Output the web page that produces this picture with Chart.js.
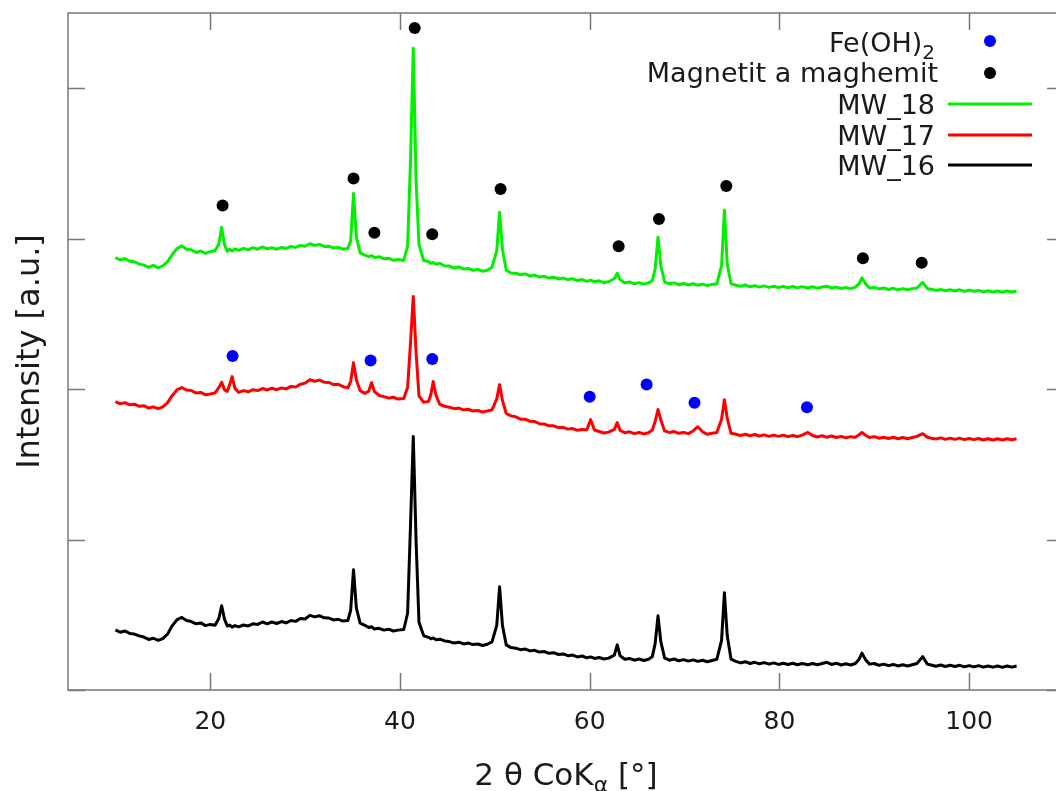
<!DOCTYPE html>
<html lang="en">
<head>
  <meta charset="UTF-8">
  <title>XRD MW_16 / MW_17 / MW_18</title>
  <script src="https://cdn.jsdelivr.net/npm/chart.js"></script>
  <style>
    html, body { margin: 0; padding: 0; background: #fff; overflow: hidden; }
    canvas { display: block; }
  </style>
</head>
<body>
  <canvas id="xrdChart" width="1072" height="791"></canvas>

  <script>
    // 2 theta grid (deg), shared by the three patterns
    const angles = [
      10,10.5,11,11.5,12,12.5,13,13.5,14,14.5,15,15.5,16,16.5,17,17.5,18,18.5,19,19.5,20,20.5,
      20.9,21.2,21.5,21.8,22.05,22.3,22.6,23,
      23.5,24,24.5,25,25.5,26,26.5,27,27.5,28,28.5,29,29.5,30,30.5,31,31.5,32,32.5,33,33.5,34,34.5,
      34.8,35.1,35.4,35.8,36.3,36.7,37,37.3,37.8,38.3,38.8,39.3,39.8,40.4,
      40.8,41.1,41.4,41.7,42,42.5,43,43.25,43.5,43.8,44.2,44.7,
      45.2,45.7,46.2,46.7,47.2,47.7,48.2,48.7,49.2,49.7,50.2,50.5,50.8,51.2,51.7,
      52.2,52.7,53.2,53.7,54.2,54.7,55.2,55.7,56.2,56.7,57.2,57.7,58.2,58.7,59.2,59.7,60.1,60.5,61,61.5,62,62.6,62.9,63.2,
      63.7,64.2,64.7,65.2,65.7,66.2,66.6,66.9,67.2,67.5,67.9,68.4,68.9,69.4,69.9,70.4,70.9,71.4,71.9,72.4,72.9,73.4,73.9,74.2,74.5,74.9,
      75.4,75.9,76.4,76.9,77.4,77.9,78.4,78.9,79.4,79.9,80.4,80.9,81.4,81.9,82.4,83,83.5,84,84.5,85,85.5,86,86.5,87,87.5,88,88.4,88.7,89.1,89.5,
      90,90.5,91,91.5,92,92.5,93,93.5,94,94.5,95.1,95.6,96,96.5,97,97.5,98,98.5,99,99.5,100,100.5,101,101.5,102,102.5,103,103.5,104,104.5,105
    ];

    // intensities (a.u., patterns already offset)
    const mw18 = [
      2875,2858,2868,2850,2846,2832,2824,2810,2822,2806,2820,2848,2895,2935,2952,2930,2926,2908,2918,2902,2914,2920,
      2965,3075,2960,2915,2930,2918,2932,2922,
      2936,2925,2940,2930,2945,2932,2940,2930,2942,2935,2948,2942,2955,2950,2966,2955,2962,2948,2950,2938,2942,2930,2935,
      2985,3300,3010,2905,2890,2880,2888,2874,2880,2866,2870,2856,2862,2855,
      2950,3500,4265,3380,2960,2855,2848,2836,2842,2830,2836,2820,
      2818,2805,2812,2798,2802,2790,2796,2784,2790,2810,2920,3175,2930,2790,2772,
      2770,2760,2766,2752,2758,2745,2750,2738,2744,2732,2738,2728,2733,2722,2728,2716,2724,2714,2720,2708,2714,2735,2770,2728,
      2706,2712,2700,2708,2698,2706,2720,2800,3010,2820,2712,2700,2706,2694,2702,2692,2700,2690,2698,2688,2696,2700,2820,3190,2830,2700,
      2690,2684,2692,2680,2688,2678,2686,2676,2684,2675,2683,2674,2682,2673,2681,2672,2680,2671,2679,2684,2672,2678,2668,2676,2668,2678,2700,2740,2698,2672,
      2676,2666,2672,2662,2670,2660,2668,2660,2668,2672,2710,2668,2664,2656,2662,2654,2660,2652,2660,2650,2658,2650,2656,2646,2654,2646,2652,2644,2652,2646,2650
    ];
    const mw17 = [
      1917,1902,1910,1896,1900,1886,1890,1874,1882,1870,1882,1910,1958,1996,2010,1994,1990,1974,1978,1962,1968,1975,
      2010,2045,1995,1985,2030,2083,2005,1978,
      1990,1982,1996,1990,2004,1994,2006,1996,2008,2002,2018,2014,2032,2040,2062,2052,2060,2046,2044,2030,2032,2016,2008,
      2050,2176,2060,1990,1972,1986,2043,1984,1958,1950,1940,1946,1934,1938,
      2010,2300,2616,2240,1955,1912,1918,1962,2050,1958,1898,1886,
      1880,1870,1874,1862,1866,1854,1858,1848,1854,1862,1935,2030,1925,1838,1822,
      1816,1800,1800,1786,1784,1770,1768,1756,1756,1744,1746,1734,1738,1726,1732,1730,1797,1728,1718,1708,1714,1732,1777,1726,
      1710,1716,1704,1712,1702,1710,1728,1785,1864,1795,1722,1712,1718,1706,1712,1704,1722,1750,1716,1700,1706,1712,1800,1930,1805,1706,
      1700,1692,1700,1690,1698,1688,1696,1686,1694,1686,1694,1684,1692,1684,1694,1712,1692,1682,1690,1680,1688,1678,1686,1676,1684,1680,1696,1712,1692,1678,
      1684,1674,1680,1672,1680,1670,1678,1670,1678,1686,1704,1680,1674,1668,1676,1666,1674,1666,1674,1664,1672,1664,1672,1662,1670,1662,1670,1662,1670,1664,1670
    ];
    const mw16 = [
      400,384,392,376,372,360,352,336,344,330,342,372,428,468,482,462,455,440,446,428,436,430,
      475,560,470,425,432,418,428,420,
      432,426,440,436,452,440,452,442,455,446,462,456,475,472,496,486,494,480,478,466,470,458,462,
      530,800,545,445,430,415,420,406,410,398,404,392,398,402,
      510,1080,1685,980,450,360,350,340,346,334,338,326,
      322,312,318,306,312,302,306,296,304,320,430,686,430,300,282,
      278,268,272,260,264,252,256,244,248,236,240,228,232,220,226,214,220,210,216,206,212,232,300,228,
      204,210,198,206,196,204,222,310,493,320,212,198,206,194,202,192,200,190,198,188,196,204,330,646,360,205,
      190,180,188,176,184,174,182,172,180,170,178,170,178,168,176,168,176,168,176,184,170,178,166,174,166,176,205,245,200,172,
      176,164,172,162,170,160,168,160,168,176,222,172,166,158,166,156,164,156,164,154,162,154,162,152,160,152,160,150,160,152,160
    ];

    // phase markers (2 theta, height)
    const feohX = [22.35, 36.9, 43.4, 60.0, 66.0, 71.05, 82.9];
    const feohY = [2220, 2190, 2200, 1950, 2030, 1910, 1880];
    const magX = [41.55, 21.3, 35.1, 37.3, 43.4, 50.6, 63.05, 67.3, 74.4, 88.8, 95.0];
    const magY = [4400, 3220, 3400, 3040, 3030, 3330, 2950, 3130, 3350, 2870, 2840];

    const xTicks = [20, 40, 60, 80, 100];
    const yTicks = [0, 1000, 2000, 3000, 4000];

    const seriesNames = ['MW_18', 'MW_17', 'MW_16'];
    const seriesColors = ['#00f000', '#ff0000', '#000000'];
    const seriesValues = [mw18, mw17, mw16];

    const FONT = '"DejaVu Sans", sans-serif';
    const TEXT = '#1a1a1a';

    const toPoints = (xs, ys) => xs.map((x, i) => ({ x: x, y: ys[i] }));

    // frame with inward ticks (gnuplot style)
    const framePlugin = {
      id: 'frame',
      beforeDatasetsDraw(chart) {
        const { ctx, chartArea: a, scales } = chart;
        ctx.save();
        ctx.strokeStyle = '#777';
        ctx.lineWidth = 1.5;
        ctx.strokeRect(a.left, a.top, a.right - a.left, a.bottom - a.top);
        ctx.beginPath();
        xTicks.forEach(v => {
          const px = Math.round(scales.x.getPixelForValue(v)) + 0.5;
          ctx.moveTo(px, a.bottom); ctx.lineTo(px, a.bottom - 17);
          ctx.moveTo(px, a.top); ctx.lineTo(px, a.top + 17);
        });
        yTicks.forEach(v => {
          const py = Math.round(scales.y.getPixelForValue(v)) + 0.5;
          ctx.moveTo(a.left, py); ctx.lineTo(a.left + 17, py);
          ctx.moveTo(a.right, py); ctx.lineTo(a.right - 17, py);
        });
        ctx.stroke();
        ctx.restore();
      },
      afterDraw(chart) {
        const { ctx, chartArea: a } = chart;
        ctx.save();
        ctx.fillStyle = TEXT;

        // x title: 2 θ CoK_α [°]
        const mainF = '31px ' + FONT, subF = '22px ' + FONT;
        ctx.font = mainF;
        const p1 = '2 \u03b8 CoK', p3 = ' [\u00b0]';
        const w1 = ctx.measureText(p1).width, w3 = ctx.measureText(p3).width;
        ctx.font = subF;
        const w2 = ctx.measureText('\u03b1').width;
        let x0 = (a.left + a.right) / 2 - (w1 + w2 + w3) / 2;
        const base = 785;
        ctx.textBaseline = 'alphabetic';
        ctx.textAlign = 'left';
        ctx.font = mainF; ctx.fillText(p1, x0, base);
        ctx.font = subF; ctx.fillText('\u03b1', x0 + w1, base + 7);
        ctx.font = mainF; ctx.fillText(p3, x0 + w1 + w2, base);

        // y title
        ctx.save();
        ctx.translate(39, (a.top + a.bottom) / 2);
        ctx.rotate(-Math.PI / 2);
        ctx.textAlign = 'center';
        ctx.font = '32px ' + FONT;
        ctx.fillText('Intensity [a.u.]', 0, 0);
        ctx.restore();

        // legend
        const tx = 935, sx0 = 948, sx1 = 1032, mx = 990;
        ctx.textAlign = 'right';
        // Fe(OH)2 with subscript
        ctx.font = '20px ' + FONT;
        const w2s = ctx.measureText('2').width;
        ctx.fillText('2', tx, 59);
        ctx.font = '27px ' + FONT;
        ctx.fillText('Fe(OH)', tx - w2s, 52);
        ctx.fillText('Magnetit a maghemit', tx + 3, 82);
        ctx.fillStyle = '#0000ff';
        ctx.beginPath(); ctx.arc(mx, 41, 6, 0, Math.PI * 2); ctx.fill();
        ctx.fillStyle = '#000';
        ctx.beginPath(); ctx.arc(mx, 73, 6, 0, Math.PI * 2); ctx.fill();
        const rows = [104, 135, 165];
        seriesNames.forEach((name, i) => {
          ctx.fillStyle = TEXT;
          ctx.fillText(name, tx, rows[i] + 10);
          ctx.strokeStyle = seriesColors[i];
          ctx.lineWidth = 3;
          ctx.beginPath(); ctx.moveTo(sx0, rows[i]); ctx.lineTo(sx1, rows[i]); ctx.stroke();
        });
        ctx.restore();
      }
    };

    const datasets = [
      {
        label: 'Fe(OH)2',
        data: toPoints(feohX, feohY),
        showLine: false,
        pointRadius: 6,
        pointBackgroundColor: '#0000ff',
        pointBorderWidth: 0,
        order: 0
      },
      {
        label: 'Magnetit a maghemit',
        data: toPoints(magX, magY),
        showLine: false,
        pointRadius: 6,
        pointBackgroundColor: '#000',
        pointBorderWidth: 0,
        order: 0
      }
    ];
    seriesNames.forEach((name, i) => {
      datasets.push({
        label: name,
        data: toPoints(angles, seriesValues[i]),
        borderColor: seriesColors[i],
        borderWidth: 3,
        borderJoinStyle: 'round',
        pointRadius: 0,
        tension: 0,
        fill: false,
        order: 1
      });
    });

    const ctx = document.getElementById('xrdChart').getContext('2d');
    new Chart(ctx, {
      type: 'line',
      data: { datasets: datasets },
      options: {
        responsive: false,
        animation: false,
        devicePixelRatio: 1,
        layout: { padding: { top: 13, right: 8, left: 0, bottom: 0 } },
        plugins: { legend: { display: false }, tooltip: { enabled: false } },
        scales: {
          x: {
            type: 'linear',
            min: 5,
            max: 110,
            afterBuildTicks: s => { s.ticks = xTicks.map(v => ({ value: v })); },
            afterFit: s => { s.height = 101; },
            grid: { display: false, drawTicks: false },
            border: { display: false },
            ticks: { font: { family: FONT, size: 25 }, color: TEXT, padding: 17, maxRotation: 0 }
          },
          y: {
            type: 'linear',
            min: 0,
            max: 4500,
            afterBuildTicks: s => { s.ticks = yTicks.map(v => ({ value: v })); },
            afterFit: s => { s.width = 68; },
            grid: { display: false, drawTicks: false },
            border: { display: false },
            ticks: { display: false }
          }
        }
      },
      plugins: [framePlugin]
    });
  </script>
</body>
</html>
